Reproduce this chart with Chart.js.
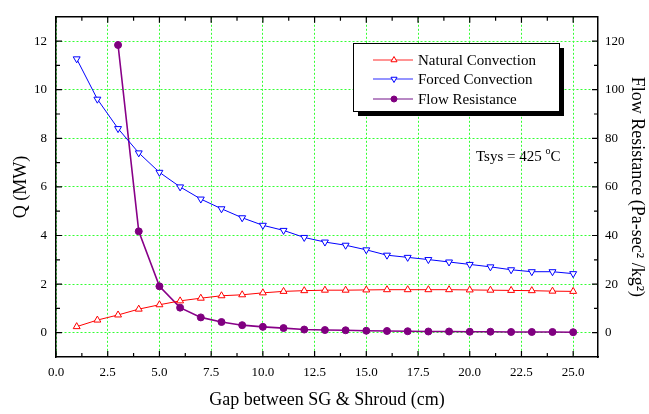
<!DOCTYPE html>
<html><head><meta charset="utf-8">
<script src="https://cdn.jsdelivr.net/npm/chart.js@4/dist/chart.umd.min.js"></script>
<style>html,body{margin:0;padding:0;background:#fff}#wrap{width:649px;height:414px}</style>
</head><body><div id="wrap"><canvas id="c" width="649" height="414"></canvas></div>
<script>
// ---- data ----
const gaps = [1,2,3,4,5,6,7,8,9,10,11,12,13,14,15,16,17,18,19,20,21,22,23,24,25];
const naturalConvection = [0.25,0.52,0.73,0.97,1.15,1.31,1.42,1.52,1.56,1.64,1.70,1.73,1.75,1.75,1.76,1.77,1.77,1.77,1.77,1.76,1.75,1.74,1.73,1.71,1.70];
const forcedConvection = [11.27,9.61,8.40,7.40,6.60,6.00,5.50,5.10,4.73,4.42,4.21,3.92,3.73,3.60,3.41,3.19,3.10,3.01,2.91,2.81,2.71,2.59,2.51,2.51,2.43];
const flowGaps = [3,4,5,6,7,8,9,10,11,12,13,14,15,16,17,18,19,20,21,22,23,24,25];
const flowResistance = [118.4,41.7,19.1,10.3,6.3,4.4,3.1,2.4,1.9,1.3,1.1,1.0,0.8,0.7,0.6,0.5,0.5,0.4,0.4,0.3,0.3,0.3,0.2];
const xTicks = [0,2.5,5,7.5,10,12.5,15,17.5,20,22.5,25];
const qTicks = [0,2,4,6,8,10,12];
const frTicks = [0,20,40,60,80,100,120];
const seriesNames = ['Natural Convection','Forced Convection','Flow Resistance'];
const annotationText = {main:'Tsys = 425 ', sup:'o', tail:'C'};

const FONT = '"Liberation Serif", "Times New Roman", serif';
const GRID = '#33ff33';
const toXY = (xs, ys) => xs.map((x, i) => ({x, y: ys[i]}));

const framePlugin = {
  id: 'frame',
  afterDraw(chart) {
    const {ctx, chartArea: a, scales} = chart;
    ctx.save();
    ctx.strokeStyle = '#000';
    ctx.lineWidth = 1.5;
    ctx.beginPath();
    ctx.moveTo(a.left, a.top); ctx.lineTo(a.right, a.top);
    ctx.stroke();
    ctx.lineWidth = 1.2;
    const sx = scales.x, sy = scales.y, s2 = scales.y2;
    ctx.beginPath();
    for (let v = 0; v <= 25.001; v += 1.25) {
      const px = sx.getPixelForValue(v);
      const L = (Math.abs(v / 2.5 - Math.round(v / 2.5)) < 1e-6) ? 6 : 4;
      ctx.moveTo(px, a.bottom); ctx.lineTo(px, a.bottom - L);
      ctx.moveTo(px, a.top); ctx.lineTo(px, a.top + L);
    }
    for (let v = -1; v <= 13; v += 1) {
      const py = sy.getPixelForValue(v);
      if (py <= a.top + 1 || py >= a.bottom - 1) continue;
      const L = (v % 2 === 0) ? 6 : 4;
      ctx.moveTo(a.left, py); ctx.lineTo(a.left + L, py);
    }
    for (let v = -10; v <= 130; v += 10) {
      const py = s2.getPixelForValue(v);
      if (py <= a.top + 1 || py >= a.bottom - 1) continue;
      const L = (v % 20 === 0) ? 6 : 4;
      ctx.moveTo(a.right, py); ctx.lineTo(a.right - L, py);
    }
    ctx.stroke();

    // annotation
    const tx = sx.getPixelForValue(20.3), ty = sy.getPixelForValue(7.05);
    ctx.fillStyle = '#000';
    ctx.textBaseline = 'alphabetic';
    ctx.textAlign = 'left';
    ctx.font = '15px ' + FONT;
    ctx.fillText(annotationText.main, tx, ty);
    let w = ctx.measureText(annotationText.main).width;
    ctx.font = '10px ' + FONT;
    ctx.fillText(annotationText.sup, tx + w, ty - 7);
    w += ctx.measureText(annotationText.sup).width;
    ctx.font = '15px ' + FONT;
    ctx.fillText(annotationText.tail, tx + w, ty);

    // legend box
    const bx = 353, by = 43, bw = 206, bh = 68;
    ctx.fillStyle = '#000';
    ctx.fillRect(bx + 5, by + 5, bw, bh);
    ctx.fillStyle = '#fff';
    ctx.fillRect(bx, by, bw, bh);
    ctx.lineWidth = 1;
    ctx.strokeStyle = '#000';
    ctx.strokeRect(bx + 0.5, by + 0.5, bw, bh);
    const rows = [60, 79, 99];
    const legendLine = ['#ff7070', '#7070ff', '#a060b0'];
    chart.data.datasets.forEach((ds, i) => {
      const y = rows[i];
      ctx.strokeStyle = legendLine[i];
      ctx.lineWidth = 1.5;
      ctx.beginPath(); ctx.moveTo(373, y); ctx.lineTo(413, y); ctx.stroke();
      ctx.fillStyle = ds.pointBackgroundColor;
      ctx.strokeStyle = ds.pointBorderColor;
      ctx.lineWidth = 1;
      Chart.helpers.drawPoint(ctx, {pointStyle: ds.pointStyle, rotation: ds.pointRotation || 0, radius: ds.pointRadius - 0.5, borderWidth: 1}, 394, y);
      ctx.fillStyle = '#000';
      ctx.font = '15px ' + FONT;
      ctx.textBaseline = 'middle';
      ctx.fillText(ds.label, 418, y + 1);
    });
    ctx.restore();
  }
};

new Chart(document.getElementById('c'), {
  type: 'line',
  data: {
    datasets: [
      {label: seriesNames[0], data: toXY(gaps, naturalConvection), yAxisID: 'y',
       borderColor: '#ff0000', borderWidth: 1, pointStyle: 'triangle', pointRadius: 4,
       pointBackgroundColor: '#ffffff', pointBorderColor: '#ff0000', pointBorderWidth: 1},
      {label: seriesNames[1], data: toXY(gaps, forcedConvection), yAxisID: 'y',
       borderColor: '#0000ff', borderWidth: 1, pointStyle: 'triangle', pointRotation: 180, pointRadius: 4,
       pointBackgroundColor: '#ffffff', pointBorderColor: '#0000ff', pointBorderWidth: 1},
      {label: seriesNames[2], data: toXY(flowGaps, flowResistance), yAxisID: 'y2',
       borderColor: '#880088', borderWidth: 1.6, pointStyle: 'circle', pointRadius: 3.5,
       pointBackgroundColor: '#800080', pointBorderColor: '#800080', pointBorderWidth: 1}
    ]
  },
  options: {
    responsive: false, animation: false, devicePixelRatio: 1,
    layout: {padding: {top: 8, left: 0, right: 0, bottom: 0}},
    plugins: {legend: {display: false}, tooltip: {enabled: false}},
    elements: {line: {tension: 0}},
    scales: {
      x: {
        type: 'linear', position: 'bottom', min: 0, max: 26.2,
        afterBuildTicks: s => { s.ticks = xTicks.map(v => ({value: v})); },
        afterFit: s => { s.height = 57; },
        ticks: {callback: v => Number(v).toFixed(1), color: '#000', font: {family: FONT, size: 13}, padding: 8, maxRotation: 0, autoSkip: false},
        grid: {color: GRID, lineWidth: 1, drawTicks: false},
        border: {color: '#000', width: 1.5, dash: [2, 2]},
        title: {display: true, text: 'Gap between SG & Shroud (cm)', color: '#000', font: {family: FONT, size: 18}, padding: {top: 0, bottom: 3}}
      },
      y: {
        type: 'linear', position: 'left', min: -1, max: 13,
        afterBuildTicks: s => { s.ticks = qTicks.map(v => ({value: v})); },
        afterFit: s => { s.width = 56; },
        ticks: {color: '#000', font: {family: FONT, size: 13}, padding: 9},
        grid: {color: GRID, lineWidth: 1, drawTicks: false},
        border: {color: '#000', width: 1.5, dash: [2, 2]},
        title: {display: true, text: 'Q (MW)', color: '#000', font: {family: FONT, size: 18}, padding: {top: 10, bottom: 0}}
      },
      y2: {
        type: 'linear', position: 'right', min: -10, max: 130,
        afterBuildTicks: s => { s.ticks = frTicks.map(v => ({value: v})); },
        afterFit: s => { s.width = 51; },
        ticks: {color: '#000', font: {family: FONT, size: 13}, padding: 7},
        grid: {display: false, drawTicks: false},
        border: {color: '#000', width: 1.5},
        title: {display: true, text: 'Flow Resistance (Pa-sec² /kg²)', color: '#000', font: {family: FONT, size: 18}, padding: {top: 1, bottom: 0}}
      }
    }
  },
  plugins: [framePlugin]
});
</script>
</body></html>
